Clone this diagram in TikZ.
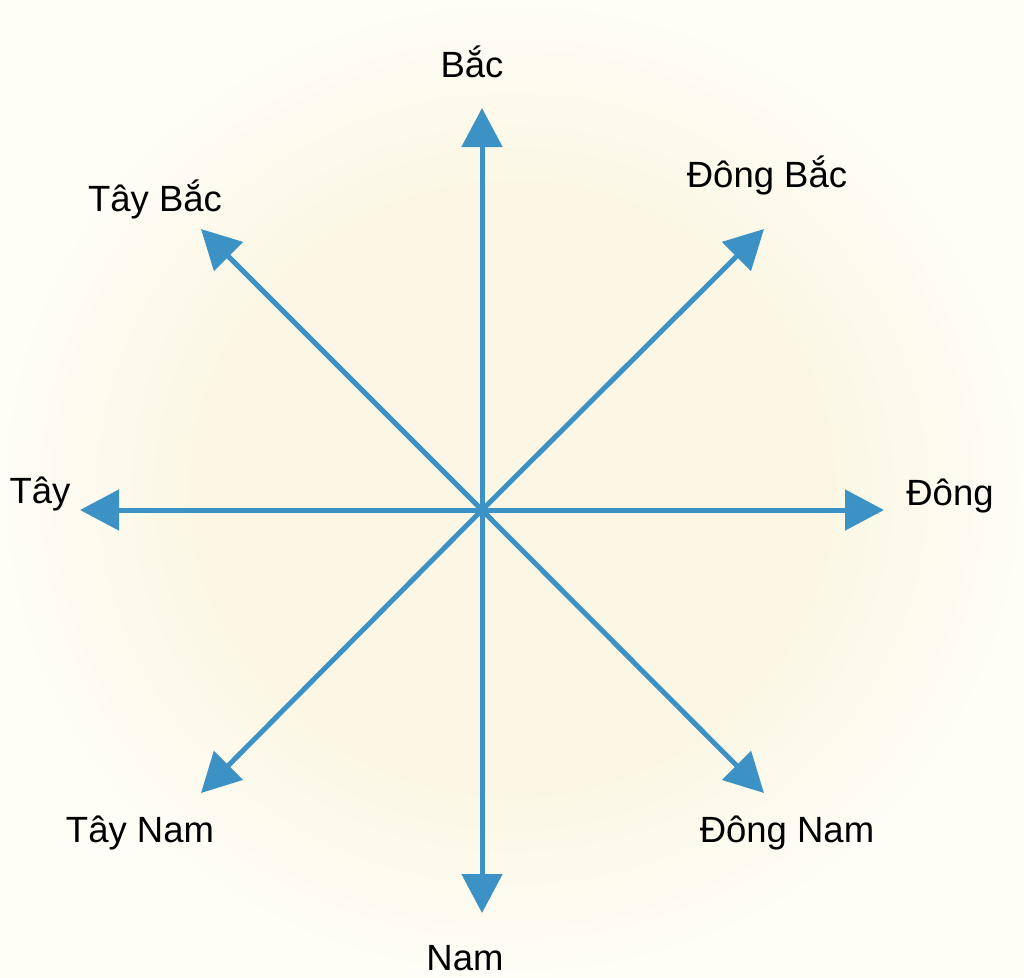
\documentclass[tikz,border=0pt]{standalone}
\usepackage{fontspec}
\setmainfont{Liberation Sans}
\usetikzlibrary{arrows.meta}
\definecolor{xanh}{RGB}{60,146,196}
\definecolor{kem}{RGB}{252,247,228}
\definecolor{nen}{RGB}{254,253,246}
\pgfdeclareradialshading{nenkem}{\pgfpoint{0bp}{0bp}}{color(0bp)=(kem); color(15bp)=(kem); color(25bp)=(nen); color(50bp)=(nen)}
\tikzset{
    huong/.style={draw=xanh, line width=5pt, -{Triangle[length=39pt, width=40pt]}},
    nhan/.style={anchor=base, inner sep=0pt, font=\fontsize{36.5}{42}\selectfont}
}
\begin{document}
\begin{tikzpicture}[x=1pt, y=-1pt]
        \useasboundingbox (0,0) rectangle (1024,977);
        \shade[shading=nenkem] (0,0) rectangle (1024,977);
        \coordinate (tam) at (482,510);
        \coordinate (bac) at (482,108);
        \coordinate (nam) at (482,913);
        \coordinate (dong) at (884,510);
        \coordinate (tay) at (80,510);
        \coordinate (dongbac) at (764,229);
        \coordinate (taybac) at (201,229);
        \coordinate (taynam) at (201,793);
        \coordinate (dongnam) at (764,793);
        \draw[huong] (tam) -- (bac);
        \draw[huong] (tam) -- (nam);
        \draw[huong] (tam) -- (dong);
        \draw[huong] (tam) -- (tay);
        \draw[huong] (tam) -- (dongbac);
        \draw[huong] (tam) -- (taybac);
        \draw[huong] (tam) -- (taynam);
        \draw[huong] (tam) -- (dongnam);
        \node[nhan] (nBac) at (472,77) {Bắc};
        \node[nhan] (nDongBac) at (767,187) {Đông Bắc};
        \node[nhan] (nTayBac) at (155,211) {Tây Bắc};
        \node[nhan] (nTay) at (40,503) {Tây};
        \node[nhan] (nDong) at (950,505) {Đông};
        \node[nhan] (nTayNam) at (140,842) {Tây Nam};
        \node[nhan] (nDongNam) at (787,842) {Đông Nam};
        \node[nhan] (nNam) at (465,970) {Nam};
    \end{tikzpicture}
\end{document}
